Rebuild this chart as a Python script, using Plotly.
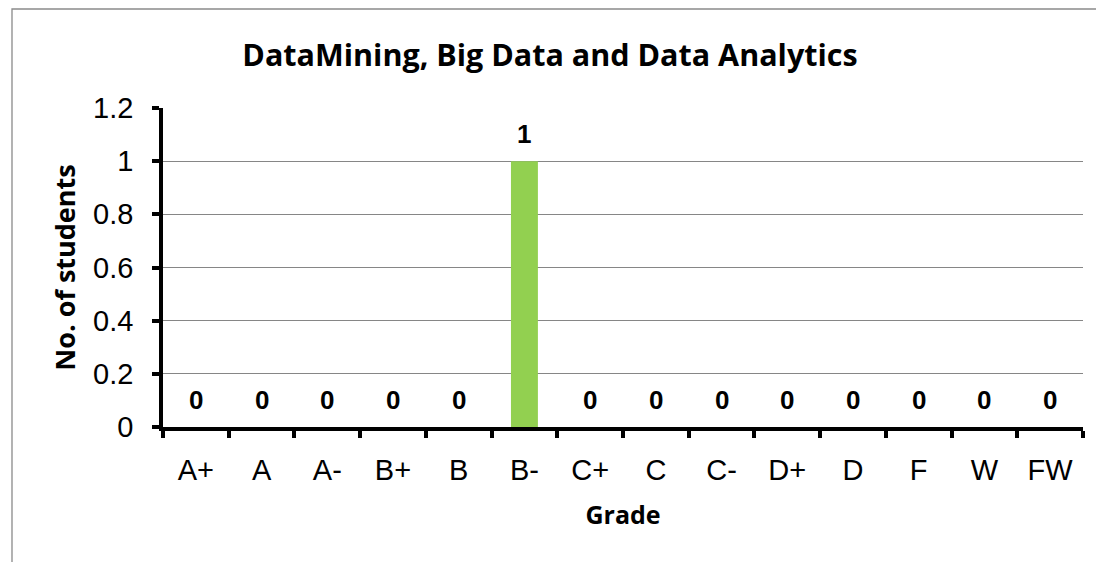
import plotly.graph_objects as go

grades = ["A+", "A", "A-", "B+", "B", "B-", "C+", "C", "C-", "D+", "D", "F", "W", "FW"]
students = [0, 0, 0, 0, 0, 1, 0, 0, 0, 0, 0, 0, 0, 0]
y_ticks = [0, 0.2, 0.4, 0.6, 0.8, 1, 1.2]
y_tick_text = ["0", "0.2", "0.4", "0.6", "0.8", "1", "1.2"]

OFF = 8  # page body margin
W, H = 1104 - OFF, 562 - OFF
L, R, T, B = 163 - OFF, 1083 - OFF, 108 - OFF, 427 - OFF

fig = go.Figure()
fig.add_trace(go.Bar(x=grades, y=students, marker=dict(color="#92D050", line=dict(width=0)),
                     width=0.41, hoverinfo="x+y"))

for g, v in zip(grades, students):
    fig.add_annotation(x=g, y=v, text=f"<b>{v}</b>", showarrow=False, yanchor="bottom",
                       yshift=10, font=dict(family="Liberation Sans, Arial", size=26, color="black"))

fig.add_shape(type="rect", xref="paper", yref="paper",
              x0=(12 - OFF - L) / (R - L), x1=(W + 10 - L) / (R - L),
              y0=(B - (H + 10)) / (B - T), y1=(B - 1) / (B - T),
              line=dict(color="#8a8a8a", width=1.3), layer="below")

fig.update_layout(
    width=W, height=H,
    margin=dict(l=L, r=W - R, t=T, b=H - B),
    paper_bgcolor="white", plot_bgcolor="white",
    showlegend=False,
    title=dict(text="<b>DataMining, Big Data and Data Analytics</b>", x=(550 - OFF) / W, xanchor="center",
               y=1 - (55 - OFF) / H, yanchor="middle",
               font=dict(family="Open Sans, Liberation Sans", size=30.5, color="black")),
    xaxis=dict(
        type="category", range=[-0.5, len(grades) - 0.5],
        showline=True, linecolor="black", linewidth=3.5,
        ticks="outside", ticklen=7, tickwidth=3.5, tickcolor="black",
        tickfont=dict(family="Liberation Sans, Arial", size=29, color="black"),
        ticklabelstandoff=14,
        title=dict(text="<b>Grade</b>", font=dict(family="Open Sans, Liberation Sans", size=25, color="black"),
                   standoff=23),
        showgrid=False, fixedrange=True, tickson="boundaries",
    ),
    yaxis=dict(
        range=[0, 1.2], tickvals=y_ticks, ticktext=y_tick_text,
        showline=True, linecolor="black", linewidth=3.5,
        ticks="outside", ticklen=7, tickwidth=3.5, tickcolor="black",
        tickfont=dict(family="Liberation Sans, Arial", size=29, color="black"),
        showgrid=True, gridcolor="#868686", gridwidth=1.3,
        zeroline=False,
        title=dict(text="<b>No. of students</b>", font=dict(family="Open Sans, Liberation Sans", size=27, color="black"),
                   standoff=11),
        ticklabelstandoff=13, fixedrange=True,
    ),
    bargap=0.59,
)

fig.write_html("out.html")
